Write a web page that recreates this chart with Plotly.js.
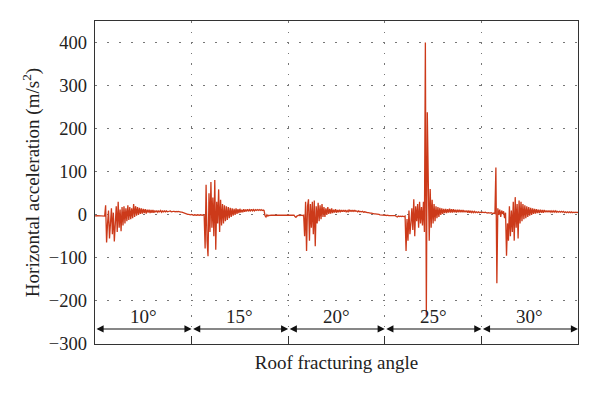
<!DOCTYPE html>
<html>
<head>
<meta charset="utf-8">
<script src="https://cdn.plot.ly/plotly-3.0.1.min.js"></script>
<style>html,body{margin:0;padding:0;background:#fff}#chart{width:600px;height:395px}</style>
</head>
<body>
<div id="chart"></div>
<script>
// Segment boundaries on the x axis (one unit per roof fracturing angle test)
var segmentBounds = [0, 1, 2, 3, 4, 5];
var segmentLabels = ['10°', '15°', '20°', '25°', '30°'];
var sampleStep = 0.01; // sampling interval within each segment

// Horizontal acceleration (m/s^2), one array per segment
var accel10 = [-2,-3,-2,-2,-3,-2,-2,-3,-2,-2,-3,22,-64,-20,10,-55,-5,15,-45,5,
  -62,-10,20,-40,30,-30,12,-38,18,-25,20,-20,15,-15,22,-12,18,-10,15,-8,
  25,-5,20,-2,18,0,16,2,15,3,14,4,13,3,12,5,12,4,11,5,
  11,5,10,6,10,6,9,7,10,6,9,7,9,7,9,7,8,8,9,7,
  8,8,8,7,8,7,8,7,7,6,6,5,4,4,3,2,1,1,0,0];
var accel15 = [1,0,-1,0,-1,-1,0,-1,-1,0,-1,-1,0,-1,-78,70,-60,-96,50,-40,
  76,-30,40,-50,81,-81,30,-20,59,-40,35,-25,25,-20,22,-15,20,-12,18,-8,
  16,-5,15,-2,14,0,15,2,13,4,14,5,12,6,13,7,12,8,13,8,
  12,9,13,9,12,9,12,10,12,10,12,10,12,10,11,10,-2,-5,0,-3,
  -1,-2,-1,-1,-2,-1,-1,-1,-1,-1,-1,-1,-2,-1,-1,-1,-2,-1,-1,-1];
var accel20 = [-1,-1,-1,-1,-2,-1,-1,-4,-6,-3,-1,-1,-2,-1,-1,-2,-1,-50,30,-84,
  20,36,-60,25,-30,30,-45,33,-73,20,-20,28,-15,22,-10,25,-5,18,-5,15,
  0,18,2,14,3,15,4,12,5,13,5,11,6,12,6,11,7,11,7,11,
  7,10,7,11,8,10,8,10,8,10,8,9,7,9,7,8,7,8,6,7,
  6,6,5,5,4,4,4,3,3,2,2,2,1,1,1,0,0,0,-1,-1];
var accel25 = [-1,-1,-2,-1,-2,-2,-2,-2,-3,-2,-3,-2,-4,-5,-3,-4,-3,-4,-3,-4,
  -4,-3,-84,-10,-60,10,-45,-20,15,-35,36,-50,20,-15,25,-30,30,-20,18,-25,
  30,-40,400,-234,238,79,-60,60,-30,35,-20,25,-15,20,-8,18,-5,16,0,15,
  2,14,4,14,4,13,5,14,5,13,5,13,6,12,5,12,6,12,6,11,
  6,11,6,10,6,10,5,10,5,9,5,8,5,8,5,7,5,7,5,6];
var accel30 = [5,6,5,5,6,5,4,5,4,4,5,4,3,4,3,110,-159,15,0,12,
  -5,10,2,8,-8,5,-95,-20,-60,20,-50,10,-40,30,-60,41,-30,25,-55,33,
  -20,30,-15,25,-10,22,-8,20,-5,18,-2,16,0,15,2,14,3,13,4,12,
  4,12,5,11,5,11,6,10,6,10,6,10,6,9,6,9,6,9,6,8,
  6,8,6,8,6,8,5,7,5,7,5,7,5,7,5,6,5,6,5,6,5];

var yTicks = [-300, -200, -100, 0, 100, 200, 300, 400];
var arrowLevel = -265;
var labelLevel = -236;

var segments = [accel10, accel15, accel20, accel25, accel30];
var xs = [], ys = [];
segments.forEach(function (seg, s) {
  seg.forEach(function (v, i) {
    xs.push(segmentBounds[s] + i * sampleStep);
    ys.push(v);
  });
});

var trace = {
  x: xs, y: ys, type: 'scatter', mode: 'lines',
  line: {color: '#cc3a1a', width: 1.3},
  hoverinfo: 'skip', showlegend: false
};

var serif = 'Liberation Serif, Times New Roman, serif';
var annotations = [];
for (var s = 0; s < segmentLabels.length; s++) {
  var a = segmentBounds[s], b = segmentBounds[s + 1];
  annotations.push({
    x: b, y: arrowLevel, ax: a, ay: arrowLevel, xref: 'x', yref: 'y', axref: 'x', ayref: 'y',
    text: '', showarrow: true, arrowhead: 2, arrowside: 'end+start', arrowsize: 1.3,
    arrowwidth: 1.1, arrowcolor: '#111', standoff: 0, startstandoff: 0
  });
  annotations.push({
    x: (a + b) / 2, y: labelLevel, xref: 'x', yref: 'y', text: segmentLabels[s],
    showarrow: false, font: {family: serif, size: 19, color: '#222'}
  });
}

var layout = {
  width: 600, height: 395,
  margin: {l: 95, r: 22, t: 21, b: 51},
  paper_bgcolor: '#fff', plot_bgcolor: '#fff',
  font: {family: serif, size: 18, color: '#222'},
  xaxis: {
    range: [segmentBounds[0], segmentBounds[segmentBounds.length - 1]],
    tickvals: segmentBounds.slice(1, -1), showticklabels: false,
    ticks: 'inside', ticklen: 8, tickcolor: '#333', tickwidth: 1.2,
    showgrid: true, gridcolor: '#777', gridwidth: 1, griddash: '1.5px,9px',
    showline: true, linecolor: '#333', linewidth: 1.3, mirror: true, zeroline: false,
    title: {text: 'Roof fracturing angle', font: {family: serif, size: 19, color: '#222'}, standoff: 11}
  },
  yaxis: {
    range: [-300, 450], tickvals: yTicks,
    ticktext: yTicks.map(function (v) { return v < 0 ? '\u2212' + Math.abs(v) : String(v); }),
    ticks: 'outside', ticklen: 3, tickcolor: 'rgba(0,0,0,0)',
    showgrid: true, gridcolor: '#777', gridwidth: 1, griddash: '1.5px,10.5px',
    showline: true, linecolor: '#333', linewidth: 1.3, mirror: true, zeroline: false,
    tickfont: {family: serif, size: 18.5, color: '#222'},
    title: {text: 'Horizontal acceleration (m/s<sup>2</sup>)', font: {family: serif, size: 19, color: '#222'}, standoff: 4}
  },
  annotations: annotations
};

Plotly.newPlot('chart', [trace], layout, {staticPlot: true, displayModeBar: false});
</script>
</body>
</html>
